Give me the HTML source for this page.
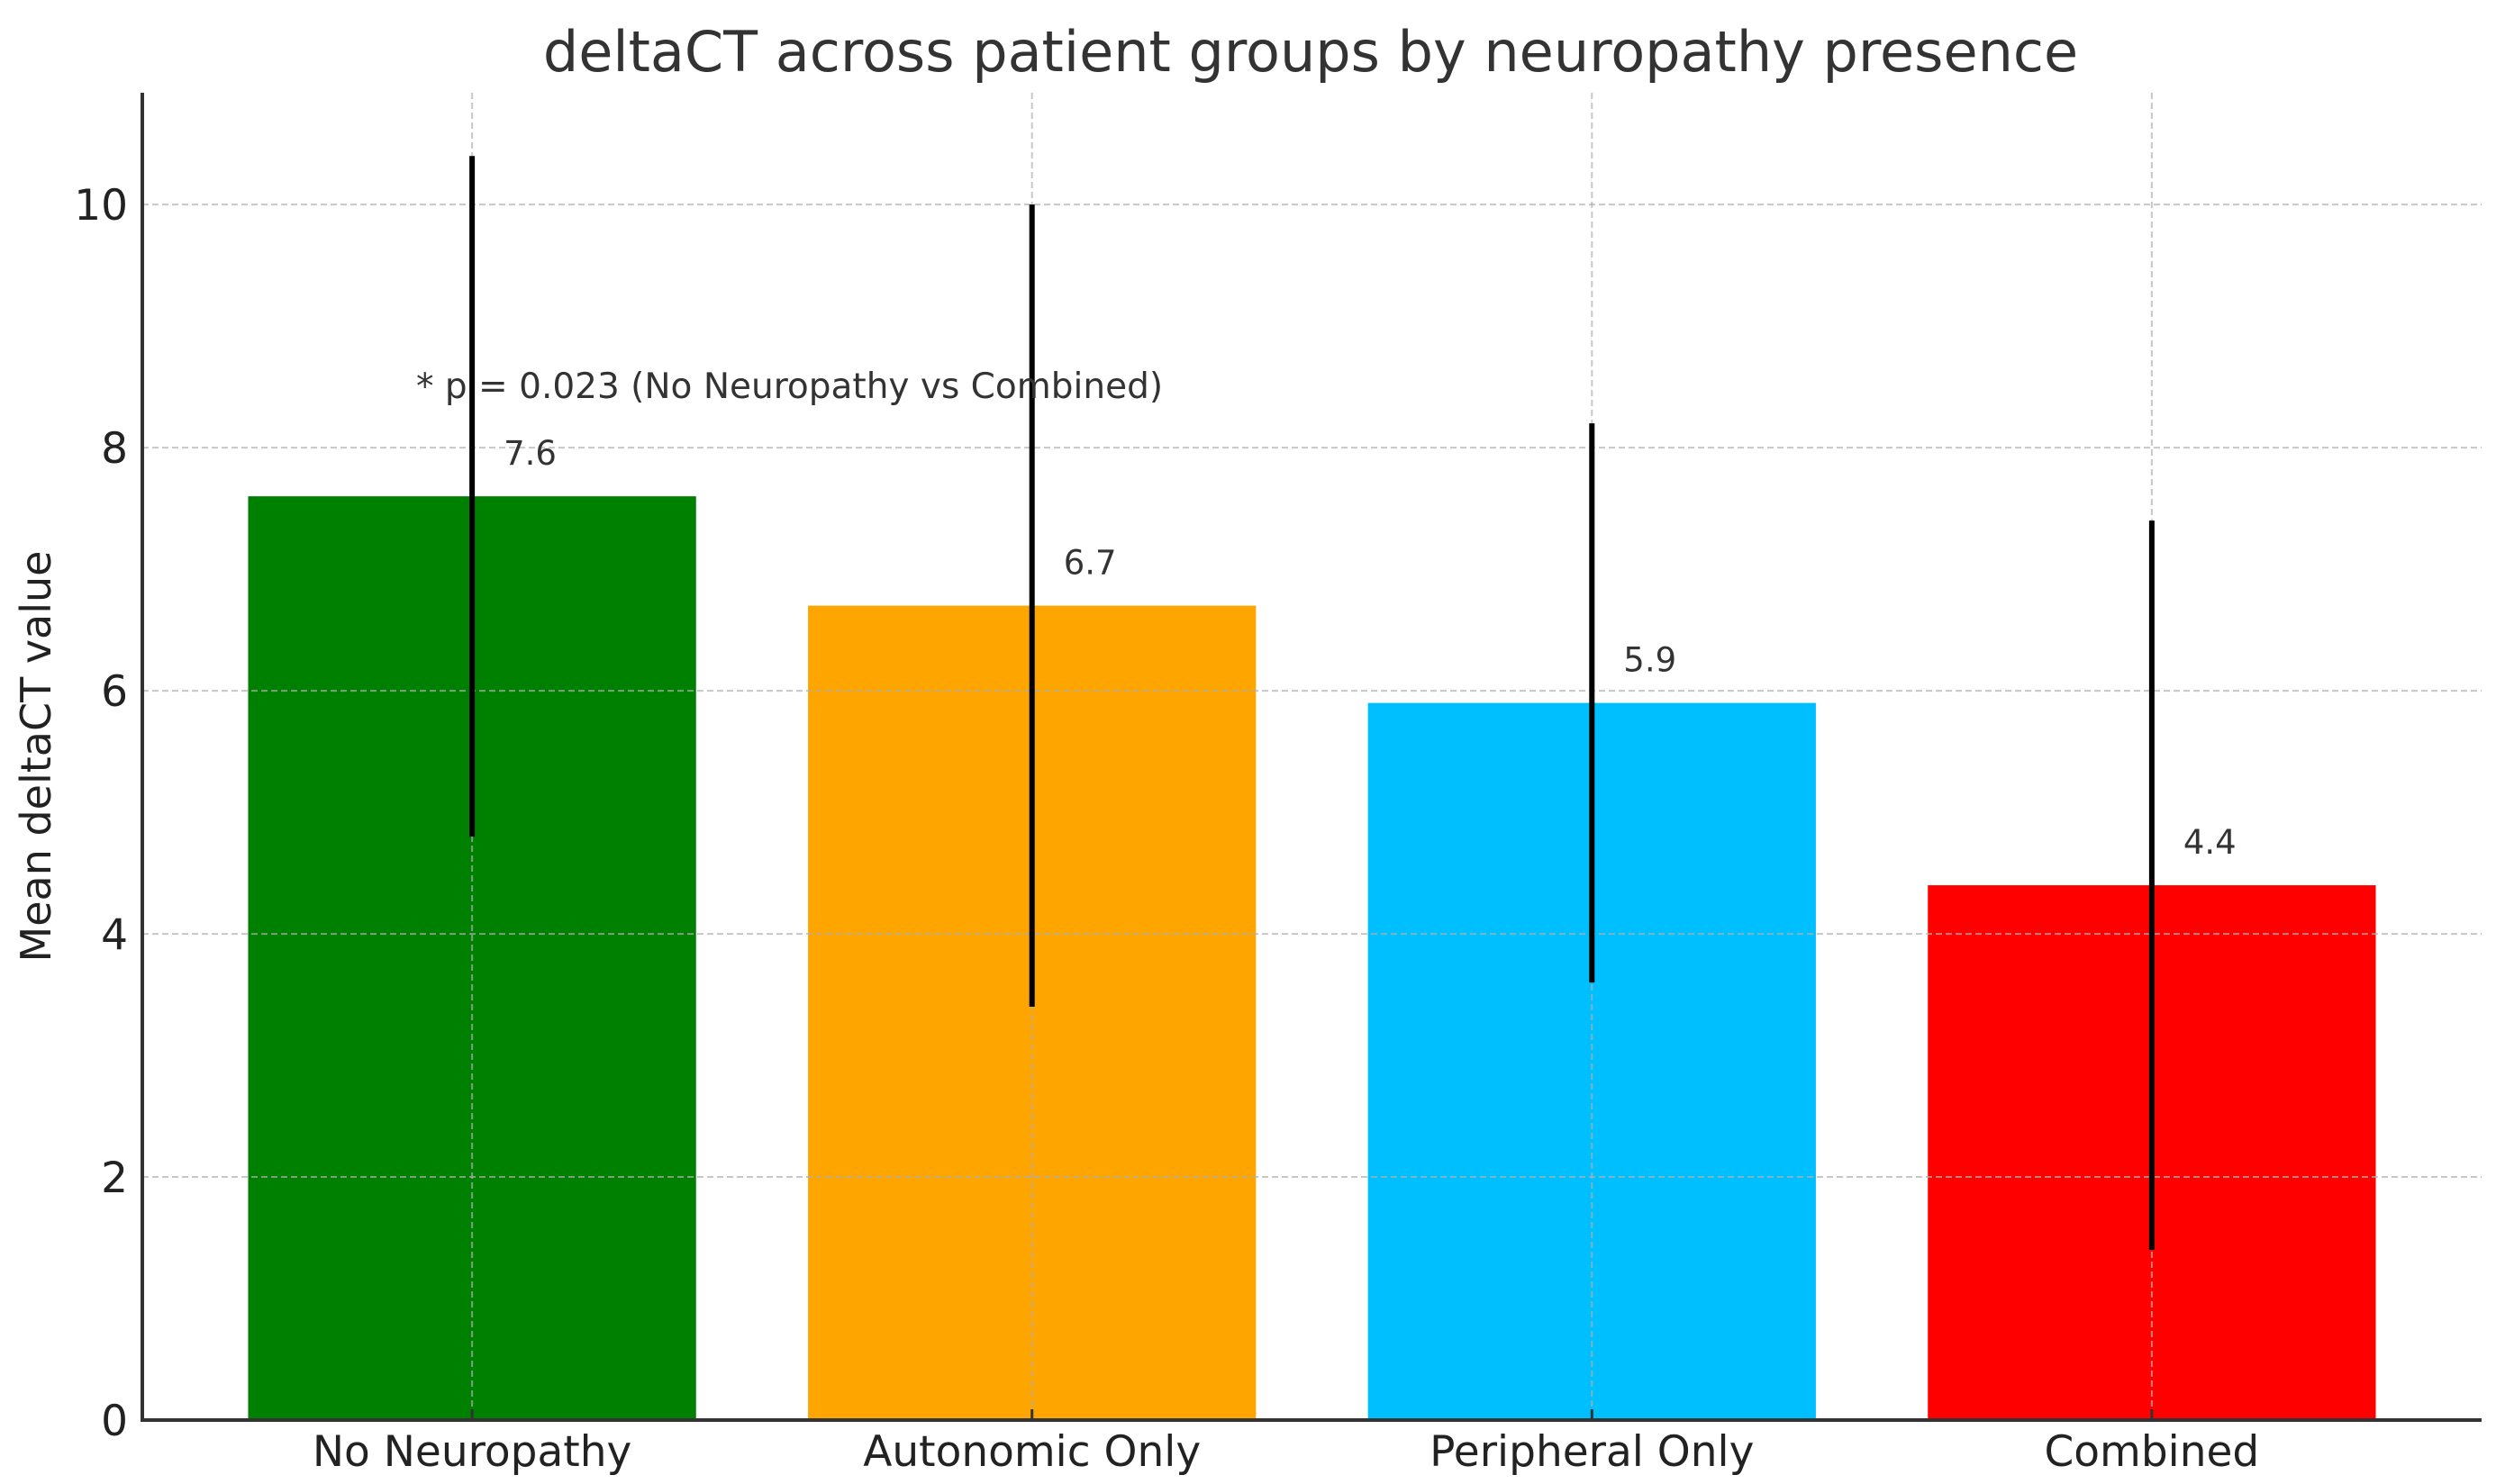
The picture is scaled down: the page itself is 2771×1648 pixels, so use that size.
<!DOCTYPE html>
<html><head><meta charset="utf-8"><style>
html,body{margin:0;padding:0;background:#fff;}
svg{display:block;font-family:"DejaVu Sans","Liberation Sans",sans-serif;}
</style></head><body>
<svg id="chart" width="2771" height="1648" viewBox="0 0 2771 1648" xmlns="http://www.w3.org/2000/svg"></svg>
<script>
const categories = ["No Neuropathy","Autonomic Only","Peripheral Only","Combined"];
const means = [7.6, 6.7, 5.9, 4.4];
const errors = [2.8, 3.3, 2.3, 3.0];
const colors = ["#008000","#FFA500","#00BFFF","#FF0000"];
const yTicks = [0,2,4,6,8,10];
const valueLabels = ["7.6","6.7","5.9","4.4"];

const NS="http://www.w3.org/2000/svg";
const svg=document.getElementById('chart');
const L=158,R=2755,T=103,B=1577;
const yMax=10.92;
const xMin=-0.589,xMax=3.589;
function y(v){return B-(v/yMax)*(B-T);}
function x(i){return L+(i-xMin)/(xMax-xMin)*(R-L);}
const bw=0.8*(R-L)/(xMax-xMin);
function mk(tag,attrs,parent){const e=document.createElementNS(NS,tag);for(const k in attrs)e.setAttribute(k,attrs[k]);(parent||svg).appendChild(e);return e;}

means.forEach((m,i)=>{
  const r=mk('rect',{x:x(i)-bw/2,y:y(m),width:bw,height:B-y(m),fill:colors[i]});
  
  
});
yTicks.forEach(t=>{
  const g=mk('line',{x1:L,x2:R,y1:y(t),y2:y(t),stroke:'#b0b0b0','stroke-width':2,'stroke-dasharray':'7,4',opacity:0.7});
  
  
});
categories.forEach((c,i)=>{
  const g=mk('line',{x1:x(i),x2:x(i),y1:T,y2:B,stroke:'#b0b0b0','stroke-width':2,'stroke-dasharray':'7,4',opacity:0.7});
  
  
});
means.forEach((m,i)=>{
  const e=mk('line',{x1:x(i),x2:x(i),y1:y(m+errors[i]),y2:y(m-errors[i]),stroke:'#000','stroke-width':6});
  
  
});
means.forEach((m,i)=>{
  const t=mk('text',{x:x(i)+35,y:y(m)-35,'font-size':37,fill:'#333'});
  t.textContent=valueLabels[i];
  
  
});
const ax=mk('path',{d:`M${L},${T}V${B}H${R}`,stroke:'#333','stroke-width':4,fill:'none'});


yTicks.forEach(t=>{
  const tl=mk('text',{x:L-16,y:y(t)+17,'font-size':47,fill:'#222','text-anchor':'end'});
  tl.textContent=t;
  
  
});
categories.forEach((c,i)=>{
  const tk=mk('line',{x1:x(i),x2:x(i),y1:B,y2:B-12,stroke:'#333','stroke-width':3});
  
  
  const tl=mk('text',{x:x(i),y:1628,'font-size':47,fill:'#222','text-anchor':'middle'});
  tl.textContent=c;
  
  
});
const yl=mk('text',{x:0,y:0,'font-size':46,fill:'#222','text-anchor':'middle',transform:`translate(56,${(T+B)/2}) rotate(-90)`});
yl.textContent='Mean deltaCT value';


const ti=mk('text',{x:1455,y:79,'font-size':62,fill:'#333','text-anchor':'middle'});
ti.textContent='deltaCT across patient groups by neuropathy presence';


const pv=mk('text',{x:462,y:442,'font-size':39,fill:'#333'});
pv.textContent='* p = 0.023 (No Neuropathy vs Combined)';


</script>
</body></html>
